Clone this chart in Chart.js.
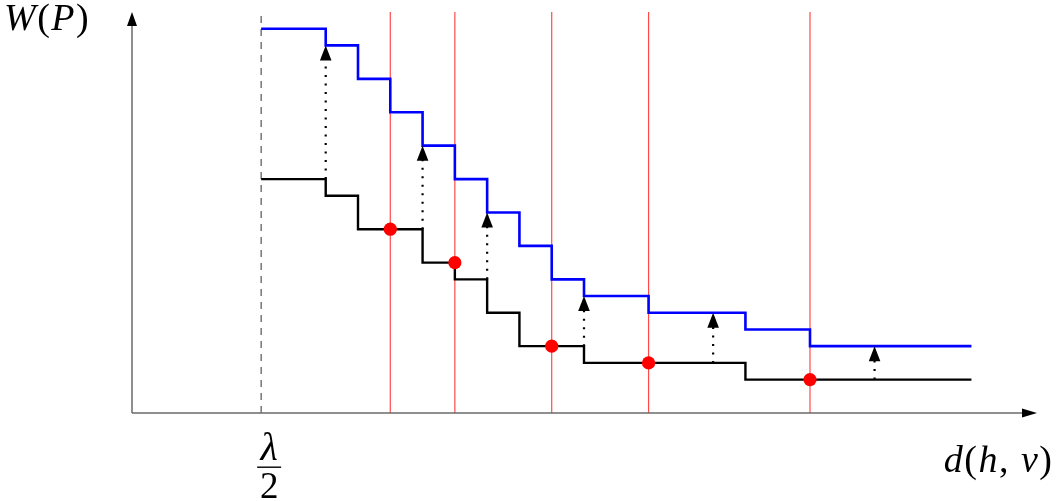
<!DOCTYPE html>
<html><head><meta charset="utf-8">
<script src="https://cdn.jsdelivr.net/npm/chart.js@4.4.1/dist/chart.umd.min.js"></script>
<style>html,body{margin:0;padding:0;background:#fff;overflow:hidden}#wrap{width:1059px;height:501px;position:relative}canvas{display:block}</style>
</head><body><div id="wrap"><canvas id="c" width="1059" height="501"></canvas></div>
<script>
// ---- data ----
const upperX = [4, 6, 7, 8, 9, 10, 11, 12, 13, 14, 16, 19, 21, 26];
const upperW = [23, 22, 20, 18, 16, 14, 12, 10, 8, 7, 6, 5, 4, 4];
const lowerX = [4, 6, 7, 9, 10, 11, 12, 14, 19, 26];
const lowerW = [14, 13, 11, 9, 8, 6, 4, 3, 2, 2];
const markX = [8, 10, 13, 16, 21];
const markW = [11, 9, 4, 3, 2];
const arrowX = [6, 9, 11, 14, 18, 23];
const arrowFrom = [14, 11, 8, 4, 3, 2];
const arrowTo = [22, 16, 12, 7, 6, 4];
const halfLambdaX = 4;
const xMax = 28, yMax = 24;

const FONT = '"Liberation Serif", "DejaVu Serif", serif';
const pts = (xs, ys) => xs.map((x, i) => ({x: x, y: ys[i]}));

const datasets = [];
datasets.push({label: 'marks', data: pts(markX, markW), showLine: false, pointRadius: 6.6,
  pointBackgroundColor: '#ff0000', pointBorderColor: '#ff0000', pointBorderWidth: 0, order: 0});
datasets.push({label: 'upper', data: pts(upperX, upperW), stepped: 'before', borderColor: '#0000ff',
  borderWidth: 2.6, pointRadius: 0, fill: false, order: 1});
datasets.push({label: 'lower', data: pts(lowerX, lowerW), stepped: 'before', borderColor: '#000000',
  borderWidth: 2.4, pointRadius: 0, fill: false, order: 1});
arrowX.forEach((x, i) => datasets.push({label: 'arrow',
  data: [{x: x, y: arrowFrom[i]}, {x: x, y: arrowTo[i]}], borderColor: '#000', borderWidth: 2.2,
  borderDash: [2, 6.5], pointRadius: 0, order: 2}));
markX.forEach(x => datasets.push({label: 'mark line', data: [{x: x, y: 0}, {x: x, y: yMax}],
  borderColor: '#ff4a4a', borderWidth: 1.2, pointRadius: 0, order: 3}));
datasets.push({label: 'half lambda', data: [{x: halfLambdaX, y: 0}, {x: halfLambdaX, y: yMax}],
  borderColor: '#555', borderWidth: 1.2, borderDash: [7, 6], pointRadius: 0, order: 3});

function head(ctx, tx, ty, dir, len, half) {
  ctx.beginPath();
  if (dir === 'up') { ctx.moveTo(tx, ty); ctx.lineTo(tx - half, ty + len); ctx.lineTo(tx + half, ty + len); }
  else { ctx.moveTo(tx, ty); ctx.lineTo(tx - len, ty - half); ctx.lineTo(tx - len, ty + half); }
  ctx.closePath(); ctx.fill();
}
function mathText(ctx, parts, x, y, size, align, gap) {
  let total = 0;
  gap = gap || 0;
  const w = parts.map(p => { ctx.font = (p[1] ? 'italic ' : '') + size + 'px ' + FONT; const m = ctx.measureText(p[0]).width + gap; total += m; return m; });
  total -= gap;
  let cx = align === 'right' ? x - total : (align === 'center' ? x - total / 2 : x);
  parts.forEach((p, i) => { ctx.font = (p[1] ? 'italic ' : '') + size + 'px ' + FONT; ctx.fillText(p[0], cx, y); cx += w[i]; });
}

const deco = {
  id: 'deco',
  afterDatasetsDraw(chart) {
    const ctx = chart.ctx, xs = chart.scales.x, ys = chart.scales.y;
    ctx.save();
    const x0 = xs.getPixelForValue(0), y0 = ys.getPixelForValue(0);
    const xe = xs.getPixelForValue(xMax), ye = ys.getPixelForValue(yMax);
    ctx.strokeStyle = '#6a6a6a'; ctx.lineWidth = 1.5;
    ctx.beginPath(); ctx.moveTo(x0, y0); ctx.lineTo(x0, ye + 8); ctx.stroke();
    ctx.beginPath(); ctx.moveTo(x0, y0); ctx.lineTo(xe - 8, y0); ctx.stroke();
    ctx.fillStyle = '#000';
    head(ctx, x0, ye, 'up', 14, 5);
    head(ctx, xe + 1, y0, 'right', 15, 4.5);
    arrowX.forEach((x, i) => head(ctx, xs.getPixelForValue(x), ys.getPixelForValue(arrowTo[i]), 'up', 15, 5.8));
    ctx.restore();
  },
  afterDraw(chart) {
    const ctx = chart.ctx, xs = chart.scales.x;
    ctx.save();
    ctx.fillStyle = '#000'; ctx.textBaseline = 'alphabetic';
    mathText(ctx, [['W', true], ['(', false], ['P', true], [')', false]], 4, 30, 38, 'left', 1.5);
    const cx = xs.getPixelForValue(halfLambdaX) + 8;
    mathText(ctx, [['λ', true]], cx, 460, 40, 'center');
    ctx.fillRect(cx - 12, 466.5, 24, 1.4);
    mathText(ctx, [['2', false]], cx, 498, 37, 'center');
    mathText(ctx, [['d', true], ['(', false], ['h', true], [',', false], [' ', false], ['v', true], [')', false]], 1052, 472, 38, 'right', 1.5);
    ctx.restore();
  }
};

function build() {
  new Chart(document.getElementById('c'), {
    type: 'line',
    data: {datasets: datasets},
    options: {
      responsive: false, animation: false, devicePixelRatio: 1,
      layout: {padding: {left: 132, right: 23, top: 12, bottom: 88}},
      scales: {
        x: {type: 'linear', min: 0, max: xMax, display: false},
        y: {type: 'linear', min: 0, max: yMax, display: false}
      },
      plugins: {legend: {display: false}, tooltip: {enabled: false}},
      elements: {line: {tension: 0}},
      clip: false
    },
    plugins: [deco]
  });
}
Promise.all([
  document.fonts.load('italic 38px "Liberation Serif"'),
  document.fonts.load('38px "Liberation Serif"')
]).then(build, build);
</script>
</body></html>
